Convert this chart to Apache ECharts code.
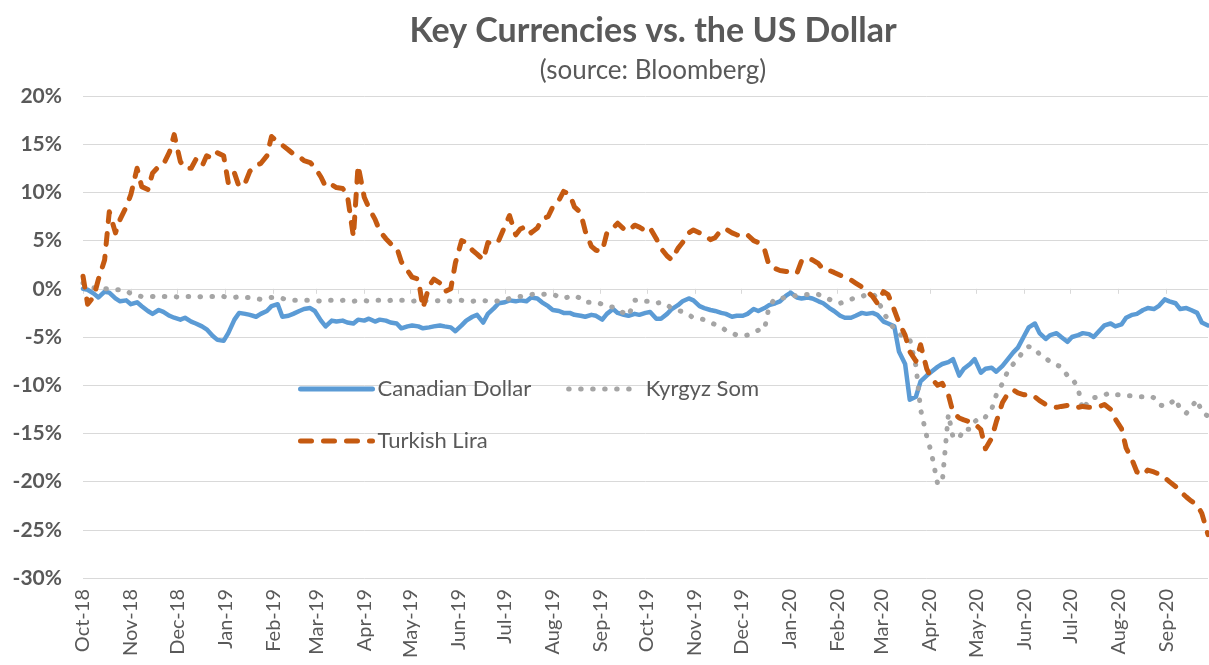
<!DOCTYPE html>
<html><head><meta charset="utf-8">
<script src="https://cdn.jsdelivr.net/npm/echarts@6/dist/echarts.min.js"></script>
<style>html,body{margin:0;padding:0;background:#fff}#c{width:1209px;height:665px}</style>
</head><body><div id="c"></div>
<script>
const monthLabels = ['Oct-18','Nov-18','Dec-18','Jan-19','Feb-19','Mar-19','Apr-19','May-19','Jun-19','Jul-19','Aug-19','Sep-19',
  'Oct-19','Nov-19','Dec-19','Jan-20','Feb-20','Mar-20','Apr-20','May-20','Jun-20','Jul-20','Aug-20','Sep-20'];
const yTicks = [-30, -25, -20, -15, -10, -5, 0, 5, 10, 15, 20];
const axisStart = '2018-10-01';
const axisEnd = '2020-09-28';

const dates = [
'2018-10-01','2018-10-04','2018-10-08','2018-10-11','2018-10-15','2018-10-18','2018-10-22','2018-10-25','2018-10-29','2018-11-01',
'2018-11-05','2018-11-08','2018-11-12','2018-11-15','2018-11-19','2018-11-22','2018-11-26','2018-11-29','2018-12-03','2018-12-06',
'2018-12-10','2018-12-13','2018-12-17','2018-12-20','2018-12-24','2018-12-27','2018-12-31','2019-01-03','2019-01-07','2019-01-10',
'2019-01-14','2019-01-17','2019-01-21','2019-01-24','2019-01-28','2019-01-31','2019-02-04','2019-02-07','2019-02-11','2019-02-14',
'2019-02-18','2019-02-21','2019-02-25','2019-02-28','2019-03-04','2019-03-07','2019-03-11','2019-03-14','2019-03-18','2019-03-21',
'2019-03-25','2019-03-28','2019-04-01','2019-04-04','2019-04-08','2019-04-11','2019-04-15','2019-04-18','2019-04-22','2019-04-25',
'2019-04-29','2019-05-02','2019-05-06','2019-05-09','2019-05-13','2019-05-16','2019-05-20','2019-05-23','2019-05-27','2019-05-30',
'2019-06-03','2019-06-06','2019-06-10','2019-06-13','2019-06-17','2019-06-20','2019-06-24','2019-06-27','2019-07-01','2019-07-04',
'2019-07-08','2019-07-11','2019-07-15','2019-07-18','2019-07-22','2019-07-25','2019-07-29','2019-08-01','2019-08-05','2019-08-08',
'2019-08-12','2019-08-15','2019-08-19','2019-08-22','2019-08-26','2019-08-29','2019-09-02','2019-09-05','2019-09-09','2019-09-12',
'2019-09-16','2019-09-19','2019-09-23','2019-09-26','2019-09-30','2019-10-03','2019-10-07','2019-10-10','2019-10-14','2019-10-17',
'2019-10-21','2019-10-24','2019-10-28','2019-10-31','2019-11-04','2019-11-07','2019-11-11','2019-11-14','2019-11-18','2019-11-21',
'2019-11-25','2019-11-28','2019-12-02','2019-12-05','2019-12-09','2019-12-12','2019-12-16','2019-12-19','2019-12-23','2019-12-26',
'2019-12-30','2020-01-02','2020-01-06','2020-01-09','2020-01-13','2020-01-16','2020-01-20','2020-01-23','2020-01-27','2020-01-30',
'2020-02-03','2020-02-06','2020-02-10','2020-02-13','2020-02-17','2020-02-20','2020-02-24','2020-02-27','2020-03-02','2020-03-05',
'2020-03-09','2020-03-12','2020-03-16','2020-03-19','2020-03-23','2020-03-26','2020-03-30','2020-04-02','2020-04-06','2020-04-09',
'2020-04-13','2020-04-16','2020-04-20','2020-04-23','2020-04-27','2020-04-30','2020-05-04','2020-05-07','2020-05-11','2020-05-14',
'2020-05-18','2020-05-21','2020-05-25','2020-05-28','2020-06-01','2020-06-04','2020-06-08','2020-06-11','2020-06-15','2020-06-18',
'2020-06-22','2020-06-25','2020-06-29','2020-07-02','2020-07-06','2020-07-09','2020-07-13','2020-07-16','2020-07-20','2020-07-23',
'2020-07-27','2020-07-30','2020-08-03','2020-08-06','2020-08-10','2020-08-13','2020-08-17','2020-08-20','2020-08-24','2020-08-27',
'2020-08-31','2020-09-03','2020-09-07','2020-09-10','2020-09-14','2020-09-17','2020-09-21','2020-09-24','2020-09-28'
];

const canadianDollar = [
0.0,-0.1,-0.5,-0.9,-0.3,-0.4,-1.0,-1.3,-1.2,-1.6,
-1.4,-1.8,-2.3,-2.6,-2.2,-2.4,-2.8,-3.0,-3.2,-3.0,
-3.4,-3.6,-3.9,-4.2,-4.9,-5.3,-5.4,-4.6,-3.2,-2.5,
-2.6,-2.7,-2.9,-2.6,-2.3,-1.8,-1.6,-2.9,-2.8,-2.6,
-2.3,-2.1,-2.0,-2.3,-3.3,-3.9,-3.3,-3.4,-3.3,-3.5,
-3.6,-3.2,-3.3,-3.1,-3.4,-3.2,-3.3,-3.5,-3.6,-4.1,
-3.9,-3.8,-3.9,-4.1,-4.0,-3.9,-3.8,-3.9,-4.0,-4.4,
-3.8,-3.3,-2.9,-2.7,-3.5,-2.6,-2.0,-1.5,-1.4,-1.2,
-1.3,-1.2,-1.3,-0.9,-1.0,-1.4,-1.8,-2.2,-2.3,-2.5,
-2.5,-2.7,-2.8,-2.9,-2.7,-2.8,-3.2,-2.6,-2.1,-2.5,
-2.7,-2.8,-2.6,-2.7,-2.5,-2.4,-3.1,-3.1,-2.6,-2.1,
-1.7,-1.3,-1.0,-1.2,-1.8,-2.0,-2.2,-2.3,-2.5,-2.6,
-2.9,-2.8,-2.8,-2.6,-2.1,-2.3,-2.0,-1.7,-1.5,-1.3,
-0.7,-0.4,-0.9,-1.0,-0.9,-1.0,-1.3,-1.5,-2.0,-2.3,
-2.8,-3.0,-3.0,-2.8,-2.5,-2.6,-2.5,-2.7,-3.4,-3.6,
-3.9,-6.5,-7.8,-11.5,-11.2,-9.6,-9.0,-8.6,-8.1,-7.8,
-7.6,-7.3,-9.0,-8.3,-7.8,-7.3,-8.7,-8.3,-8.2,-8.6,
-8.0,-7.4,-6.6,-6.1,-4.9,-4.0,-3.6,-4.6,-5.2,-4.8,
-4.6,-5.0,-5.5,-5.0,-4.8,-4.6,-4.7,-5.0,-4.3,-3.8,
-3.6,-3.9,-3.7,-3.0,-2.7,-2.6,-2.2,-2.0,-2.1,-1.8,
-1.1,-1.3,-1.5,-2.1,-2.0,-2.2,-2.5,-3.5,-3.8
];

const kyrgyzSom = [
0.6,0.4,0.1,0.0,0.0,0.0,-0.1,-0.1,-0.2,-0.5,
-0.7,-0.8,-0.8,-0.8,-0.9,-0.8,-0.8,-0.8,-0.9,-0.8,
-0.8,-0.9,-0.8,-0.8,-0.8,-0.9,-0.8,-0.9,-0.9,-0.8,
-0.9,-0.9,-1.0,-1.1,-1.0,-0.9,-0.9,-1.0,-1.2,-1.2,
-1.2,-1.2,-1.2,-1.2,-1.3,-1.2,-1.2,-1.3,-1.2,-1.2,
-1.3,-1.2,-1.2,-1.3,-1.2,-1.2,-1.3,-1.2,-1.3,-1.2,
-1.2,-1.3,-1.2,-1.2,-1.3,-1.3,-1.2,-1.2,-1.3,-1.2,
-1.2,-1.3,-1.3,-1.2,-1.2,-1.3,-1.2,-1.3,-1.2,-1.0,
-0.9,-0.8,-0.7,-0.6,-0.5,-0.6,-0.5,-0.6,-0.8,-1.0,
-0.8,-0.7,-1.0,-1.4,-1.4,-1.4,-1.6,-1.8,-1.9,-2.2,
-2.5,-2.8,-1.2,-1.1,-1.3,-1.3,-1.5,-1.4,-1.7,-2.0,
-2.2,-2.4,-2.7,-3.0,-3.1,-3.2,-3.5,-3.7,-4.0,-4.3,
-4.6,-4.8,-4.9,-4.8,-4.5,-4.3,-4.2,-1.8,-1.0,-1.0,
-0.9,-0.8,-0.7,-0.6,-0.6,-0.5,-0.6,-0.8,-1.1,-1.3,
-1.5,-1.3,-1.1,-0.9,-0.8,-0.6,-0.5,-1.0,-2.5,-3.2,
-4.2,-4.7,-5.0,-5.2,-8.0,-12.5,-15.3,-17.0,-20.2,-20.1,
-13.0,-15.4,-15.5,-14.5,-14.6,-13.8,-13.2,-13.3,-12.5,-11.0,
-9.8,-8.7,-7.8,-7.3,-6.3,-6.0,-6.2,-6.8,-7.2,-7.6,
-7.9,-8.1,-9.0,-9.2,-10.4,-12.6,-11.5,-11.3,-11.2,-11.0,
-10.8,-11.0,-11.0,-11.1,-11.1,-11.2,-11.2,-11.1,-11.3,-12.0,
-12.2,-12.0,-11.4,-12.5,-12.9,-12.3,-11.5,-12.8,-13.2
];

const turkishLira = [
1.3,-1.6,-0.8,1.0,3.0,8.0,5.8,7.2,8.5,9.8,
12.5,10.6,10.3,12.0,12.7,12.9,14.2,16.0,13.2,12.5,
12.5,13.4,12.7,13.8,13.5,14.1,13.8,11.0,12.0,10.6,
11.0,12.2,12.8,13.0,13.8,15.8,15.2,14.9,14.4,14.0,
13.7,13.3,13.1,12.6,11.6,10.6,10.8,10.5,10.4,9.8,
5.4,12.8,9.5,8.4,7.2,6.0,5.2,4.7,4.3,2.8,
1.9,1.2,1.0,-2.0,0.3,1.0,0.6,-0.3,0.0,2.7,
5.0,4.8,4.0,3.6,3.0,4.8,4.6,5.0,6.5,7.6,
5.6,6.2,6.5,5.8,6.3,7.2,7.5,8.5,9.2,10.1,
9.8,8.5,7.9,6.0,4.4,4.0,3.9,5.8,6.3,6.8,
6.2,6.0,6.6,6.4,6.0,6.3,5.2,4.2,3.4,3.0,
4.2,4.8,5.8,6.1,5.8,5.6,5.1,5.3,6.1,6.2,
5.8,5.6,5.4,5.6,5.0,4.8,4.1,2.4,2.1,1.9,
1.8,1.7,1.6,2.9,3.2,3.0,2.6,2.0,1.9,1.7,
1.4,1.2,0.9,0.6,0.2,-0.2,-0.8,-1.5,-0.3,-0.6,
-2.2,-3.5,-4.8,-6.5,-7.5,-5.8,-8.3,-9.3,-10.0,-9.8,
-11.0,-12.8,-13.4,-13.6,-13.8,-14.0,-14.6,-16.6,-15.5,-13.8,
-11.8,-11.0,-10.5,-10.8,-11.0,-10.9,-11.2,-11.6,-12.0,-12.2,
-12.3,-12.2,-12.1,-12.3,-12.3,-12.2,-12.3,-12.3,-12.2,-12.0,
-12.5,-13.5,-14.5,-16.5,-17.8,-19.0,-19.3,-18.8,-19.0,-19.2,
-19.6,-20.0,-20.5,-21.0,-21.6,-22.0,-22.4,-23.3,-25.5
];

// daily category scale for the date axis
const days = [];
for (let t = Date.parse(axisStart); t <= Date.parse(axisEnd); t += 86400000) {
  days.push(new Date(t).toISOString().slice(0, 10));
}
const isMonthStart = (idx, val) => val.slice(8) === '01';
const monthLabel = (val) => {
  const y = +val.slice(0, 4), m = +val.slice(5, 7);
  const i = (y - 2018) * 12 + (m - 1) - 9;
  return monthLabels[i] || '';
};
const pair = (arr) => dates.map((d, i) => [d, arr[i]]);

const FONT = 'Lato';
const GREY_TXT = '#595959';
const legendCommon = {
  padding: 0, itemWidth: 72, itemHeight: 14, itemGap: 35,
  itemStyle: {opacity: 0},
  lineStyle: {width: 5, type: 'inherit', cap: 'round'},
  textStyle: {fontFamily: FONT, fontSize: 22, color: GREY_TXT}
};
const chart = echarts.init(document.getElementById('c'), null, {renderer: 'canvas'});
chart.setOption({
  animation: false,
  backgroundColor: '#ffffff',
  textStyle: {fontFamily: FONT},
  title: {
    text: 'Key Currencies vs. the US Dollar',
    subtext: '(source: Bloomberg)',
    left: 648, top: 9, textAlign: 'center', itemGap: 10,
    textStyle: {fontFamily: FONT, fontSize: 34, fontWeight: 'bold', color: GREY_TXT},
    subtextStyle: {fontFamily: FONT, fontSize: 26, color: GREY_TXT}
  },
  legend: [
    Object.assign({data: ['Canadian Dollar', 'Kyrgyz Som'], left: 298, top: 378}, legendCommon),
    Object.assign({data: ['Turkish Lira'], left: 298, top: 430}, legendCommon)
  ],
  grid: {left: 83, right: 1, top: 96, bottom: 87, containLabel: false},
  xAxis: [
    {type: 'category', data: days, boundaryGap: false, position: 'bottom',
     axisLine: {show: false, onZero: false}, axisTick: {show: false},
     axisLabel: {interval: isMonthStart, rotate: 90, margin: 11, formatter: monthLabel,
       fontFamily: FONT, fontSize: 20, color: GREY_TXT},
     splitLine: {show: false}},
    {type: 'category', data: days, boundaryGap: false, position: 'bottom',
     axisLine: {show: true, onZero: true, lineStyle: {color: '#D9D9D9', width: 1}},
     axisTick: {show: true, interval: isMonthStart, length: 5, lineStyle: {color: '#D9D9D9'}},
     axisLabel: {show: false}, splitLine: {show: false}}
  ],
  yAxis: {
    type: 'value', min: yTicks[0], max: yTicks[yTicks.length - 1], interval: 5,
    axisLine: {show: false}, axisTick: {show: false},
    axisLabel: {formatter: '{value}%', margin: 21, fontFamily: FONT, fontSize: 21,
      fontWeight: 'bold', color: GREY_TXT},
    splitLine: {lineStyle: {color: '#D9D9D9', width: 1}}
  },
  series: [
    {name: 'Canadian Dollar', type: 'line', data: pair(canadianDollar), symbol: 'none',
     lineStyle: {color: '#5B9BD5', width: 4.5, cap: 'round', join: 'round'}, itemStyle: {color: '#5B9BD5'}, z: 2},
    {name: 'Kyrgyz Som', type: 'line', data: pair(kyrgyzSom), symbol: 'none',
     lineStyle: {color: '#A5A5A5', width: 5, type: [0.5, 11.5], cap: 'round', join: 'round'}, itemStyle: {color: '#A5A5A5'}, z: 3},
    {name: 'Turkish Lira', type: 'line', data: pair(turkishLira), symbol: 'none',
     lineStyle: {color: '#C55A11', width: 5, type: [11, 12], cap: 'round', join: 'round'}, itemStyle: {color: '#C55A11'}, z: 4}
  ]
});
</script>
</body></html>
